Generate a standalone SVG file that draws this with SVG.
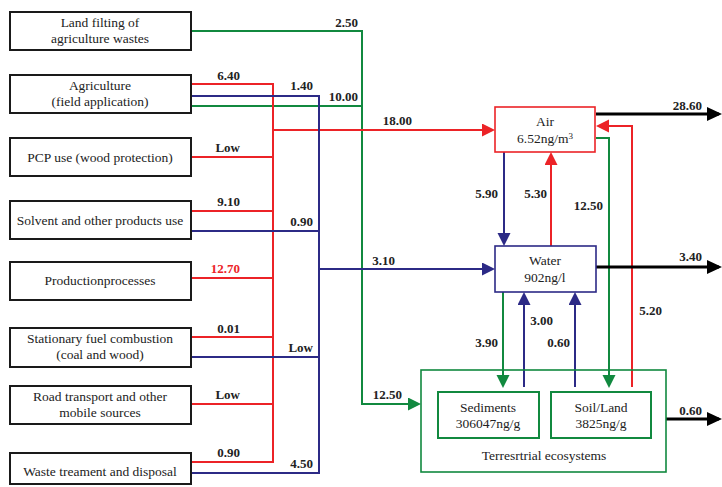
<svg xmlns="http://www.w3.org/2000/svg" width="722" height="487" viewBox="0 0 722 487">
<style>
.bg{fill:#fff}
.src{fill:#fff;stroke:#1a1a1a;stroke-width:2}
.t{font-family:'Liberation Serif','DejaVu Serif','Times New Roman',serif;font-size:13.5px;fill:#222;text-anchor:middle}
.l{font-family:'Liberation Serif','DejaVu Serif','Times New Roman',serif;font-size:13px;font-weight:bold;fill:#222;text-anchor:end}
.c{fill:none;stroke-width:2}
.r{stroke:#ec2327}
.b{stroke:#2c2a86}
.g{stroke:#11893f}
.k{stroke:#000;stroke-width:3}
</style>
<defs>
<marker id="ar" markerUnits="userSpaceOnUse" markerWidth="14" markerHeight="14" refX="10" refY="6.5" orient="auto"><path d="M0,0 L13,6.5 L0,13 z" fill="#ec2327"/></marker>
<marker id="ab" markerUnits="userSpaceOnUse" markerWidth="14" markerHeight="14" refX="10" refY="6.5" orient="auto"><path d="M0,0 L13,6.5 L0,13 z" fill="#2c2a86"/></marker>
<marker id="ag" markerUnits="userSpaceOnUse" markerWidth="14" markerHeight="14" refX="10" refY="6.5" orient="auto"><path d="M0,0 L13,6.5 L0,13 z" fill="#11893f"/></marker>
<marker id="ak" markerUnits="userSpaceOnUse" markerWidth="16" markerHeight="16" refX="12" refY="7" orient="auto"><path d="M0,0 L15,7 L0,14 z" fill="#000"/></marker>
</defs>
<rect class="bg" x="0" y="0" width="722" height="487"/>

<g id="connectors">
<path class="c g" d="M191,31 H362 V404 H418" marker-end="url(#ag)"/>
<path class="c g" d="M191,106 H362"/>
<path class="c g" d="M596,138 H609 V385" marker-end="url(#ag)"/>
<path class="c g" d="M503,292 V385" marker-end="url(#ag)"/>
<path class="c r" d="M191,84 H273 V462 H191"/>
<path class="c r" d="M191,157 H273"/>
<path class="c r" d="M191,211 H273"/>
<path class="c r" d="M191,278 H273"/>
<path class="c r" d="M191,337 H273"/>
<path class="c r" d="M191,404 H273"/>
<path class="c r" d="M273,130 H492" marker-end="url(#ar)"/>
<path class="c r" d="M551,246 V155" marker-end="url(#ar)"/>
<path class="c r" d="M632,387 V126 H599" marker-end="url(#ar)"/>
<path class="c b" d="M191,96 H319 V473 H191"/>
<path class="c b" d="M191,231 H319"/>
<path class="c b" d="M191,357 H319"/>
<path class="c b" d="M319,269 H492" marker-end="url(#ab)"/>
<path class="c b" d="M504,152 V243" marker-end="url(#ab)"/>
<path class="c b" d="M524,387 V295" marker-end="url(#ab)"/>
<path class="c b" d="M575,387 V295" marker-end="url(#ab)"/>
<path class="c k" d="M596,114 H719" marker-end="url(#ak)"/>
<path class="c k" d="M596,267 H719" marker-end="url(#ak)"/>
<path class="c k" d="M666,419 H719" marker-end="url(#ak)"/>
<text class="l" x="358" y="27">2.50</text>
<text class="l" x="240" y="80">6.40</text>
<text class="l" x="313" y="90">1.40</text>
<text class="l" x="358" y="101">10.00</text>
<text class="l" x="412" y="125">18.00</text>
<text class="l" x="240" y="152">Low</text>
<text class="l" x="240" y="206">9.10</text>
<text class="l" x="313" y="226">0.90</text>
<text class="l" x="240" y="273" style="fill:#ec2327">12.70</text>
<text class="l" x="395" y="265">3.10</text>
<text class="l" x="240" y="333">0.01</text>
<text class="l" x="313" y="352">Low</text>
<text class="l" x="240" y="399">Low</text>
<text class="l" x="402" y="399">12.50</text>
<text class="l" x="240" y="457">0.90</text>
<text class="l" x="313" y="468">4.50</text>
<text class="l" x="702" y="110">28.60</text>
<text class="l" x="498" y="198">5.90</text>
<text class="l" x="547" y="198">5.30</text>
<text class="l" x="603" y="210">12.50</text>
<text class="l" x="702" y="261">3.40</text>
<text class="l" x="662" y="315">5.20</text>
<text class="l" x="553" y="325">3.00</text>
<text class="l" x="498" y="347">3.90</text>
<text class="l" x="570" y="347">0.60</text>
<text class="l" x="702" y="415">0.60</text>
</g>

<g id="land-filling">
<rect class="src" x="10" y="12" width="181" height="38"/>
<text class="t" x="100" y="27">Land filting of</text>
<text class="t" x="100" y="43">agriculture wastes</text>
</g>
<g id="agriculture">
<rect class="src" x="10" y="75" width="181" height="38"/>
<text class="t" x="100" y="90">Agriculture</text>
<text class="t" x="100" y="106">(field application)</text>
</g>
<g id="pcp-use">
<rect class="src" x="10" y="138" width="181" height="38"/>
<text class="t" x="100" y="162">PCP use (wood protection)</text>
</g>
<g id="solvent">
<rect class="src" x="10" y="201" width="181" height="38"/>
<text class="t" x="100" y="225">Solvent and other products use</text>
</g>
<g id="production">
<rect class="src" x="10" y="262" width="181" height="38"/>
<text class="t" x="100" y="285">Productionprocesses</text>
</g>
<g id="stationary">
<rect class="src" x="10" y="328" width="181" height="39"/>
<text class="t" x="100" y="343">Stationary fuel combustion</text>
<text class="t" x="100" y="359">(coal and wood)</text>
</g>
<g id="road">
<rect class="src" x="10" y="386" width="181" height="38"/>
<text class="t" x="100" y="401">Road transport and other</text>
<text class="t" x="100" y="417">mobile sources</text>
</g>
<g id="waste">
<rect class="src" x="10" y="453" width="181" height="31"/>
<text class="t" x="100" y="476">Waste treament and disposal</text>
</g>

<g id="air">
<rect x="495" y="107" width="100" height="45" fill="#fff" stroke="#ec2327" stroke-width="1.6"/>
<text class="t" x="545" y="126">Air</text>
<text class="t" x="545" y="143">6.52ng/m<tspan dy="-4" font-size="9">3</tspan></text>
</g>
<g id="water">
<rect x="495" y="246" width="101" height="46" fill="#fff" stroke="#2c2a86" stroke-width="1.6"/>
<text class="t" x="545" y="265">Water</text>
<text class="t" x="545" y="282">902ng/l</text>
</g>
<g id="terrestrial">
<rect x="421" y="370" width="245" height="102" fill="none" stroke="#11893f" stroke-width="1.6"/>
<text class="t" x="544" y="460">Terresrtrial ecosystems</text>
</g>
<g id="sediments">
<rect x="438" y="392" width="101" height="46" fill="#fff" stroke="#11893f" stroke-width="2"/>
<text class="t" x="488" y="412">Sediments</text>
<text class="t" x="488" y="428">306047ng/g</text>
</g>
<g id="soil">
<rect x="551" y="392" width="100" height="46" fill="#fff" stroke="#11893f" stroke-width="2"/>
<text class="t" x="601" y="412">Soil/Land</text>
<text class="t" x="601" y="428">3825ng/g</text>
</g>
</svg>
